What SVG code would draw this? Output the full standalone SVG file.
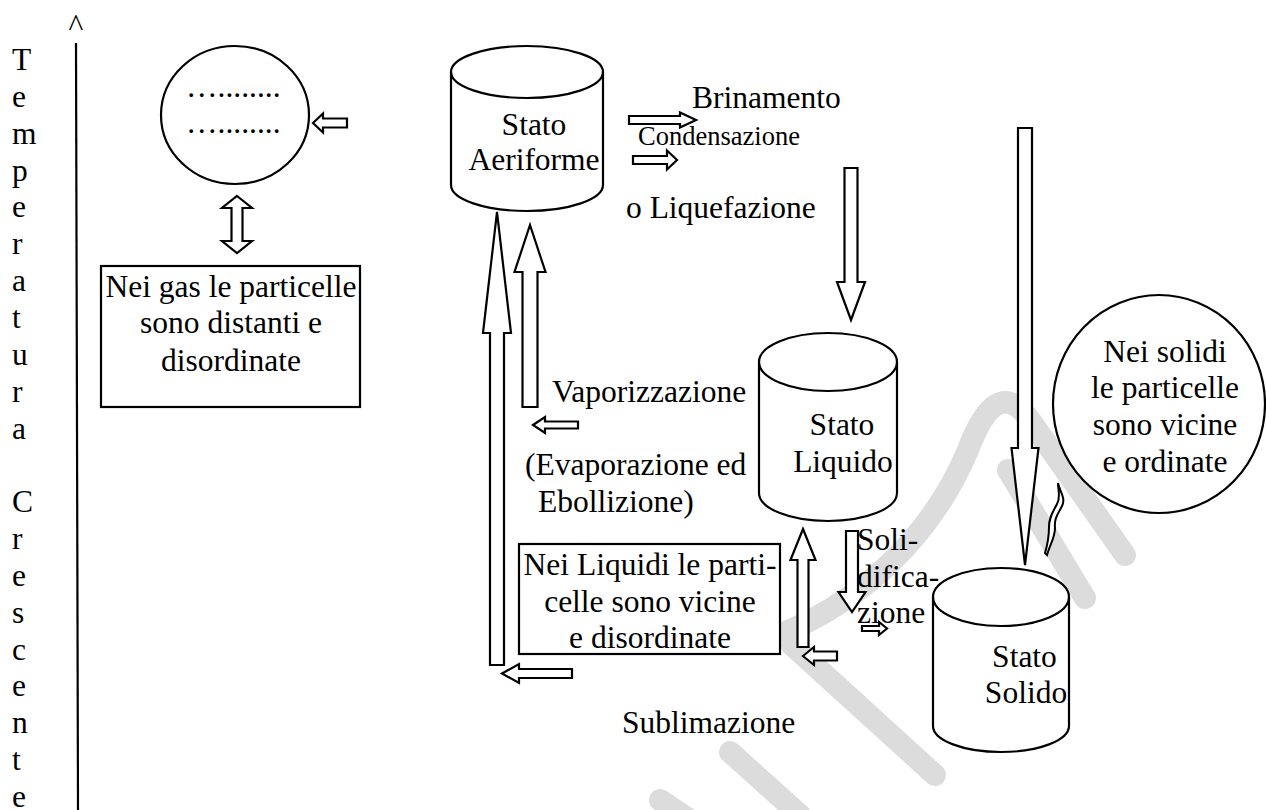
<svg xmlns="http://www.w3.org/2000/svg" width="1266" height="810" viewBox="0 0 1266 810">
<style>
  text { font-family: "Liberation Serif", "Times New Roman", serif; font-size: 31.5px; fill: #000; }
  .small { font-size: 26.5px; }
  .mid { text-anchor: middle; }
  .shape { fill: #fff; stroke: #000; stroke-width: 2.2; stroke-linejoin: miter; }
  .arrow { fill: #fff; stroke: #000; stroke-width: 2.2; stroke-linejoin: miter; }
  .line { fill: none; stroke: #000; stroke-width: 2.2; }
  .wm { fill: none; stroke: #dcdcdc; stroke-width: 22; stroke-linecap: round; stroke-linejoin: round; }
</style>
<rect width="1266" height="810" fill="#fff"/>

<g id="watermark">
  <path class="wm" d="M786,632 C860,600 930,540 968,450 C985,405 1005,385 1030,420 L1125,555"/>
  <path class="wm" d="M1008,470 L1085,598"/>
  <path class="wm" d="M792,645 L935,775"/>
  <path class="wm" d="M730,752 L800,815"/>
  <path class="wm" d="M660,800 L690,820"/>
</g>

<g id="axis">
  <line class="line" x1="76" y1="43" x2="78" y2="810"/>
  <text class="mid" x="76" y="36">^</text>
  <text x="12" y="70">
    <tspan x="12">T</tspan><tspan x="12" dy="36.85">e</tspan><tspan x="12" dy="36.85">m</tspan><tspan x="12" dy="36.85">p</tspan><tspan x="12" dy="36.85">e</tspan><tspan x="12" dy="36.85">r</tspan><tspan x="12" dy="36.85">a</tspan><tspan x="12" dy="36.85">t</tspan><tspan x="12" dy="36.85">u</tspan><tspan x="12" dy="36.85">r</tspan><tspan x="12" dy="36.85">a</tspan><tspan x="12" dy="73.7">C</tspan><tspan x="12" dy="36.85">r</tspan><tspan x="12" dy="36.85">e</tspan><tspan x="12" dy="36.85">s</tspan><tspan x="12" dy="36.85">c</tspan><tspan x="12" dy="36.85">e</tspan><tspan x="12" dy="36.85">n</tspan><tspan x="12" dy="36.85">t</tspan><tspan x="12" dy="36.85">e</tspan>
  </text>
</g>

<g id="connectors">
  <!-- left-pointing arrows -->
  <polygon class="arrow" points="313,123 323,113.5 323,118.5 347,118.5 347,127.5 323,127.5 323,132.5"/>
  <polygon class="arrow" points="533,425 545,417 545,421.5 578,421.5 578,428.5 545,428.5 545,433"/>
  <polygon class="arrow" points="502,673.5 519,664 519,669 572,669 572,678 519,678 519,683"/>
  <polygon class="arrow" points="803,656 814,647 814,651.5 837,651.5 837,660.5 814,660.5 814,665"/>
  <!-- right-pointing arrows -->
  <polygon class="arrow" points="629,116 680,116 680,112.5 696,120 680,127.5 680,124 629,124"/>
  <polygon class="arrow" points="633,156 667,156 667,150.5 677,160 667,169.5 667,164 633,164"/>
  <polygon class="arrow" points="862,626 879,626 879,622 887,628.5 879,635 879,631 862,631" stroke-width="1.8"/>
  <!-- up arrows -->
  <polygon class="arrow" points="497,212 511,333 504,333 504,665 490,665 490,333 483,333"/>
  <polygon class="arrow" points="530,225 545.5,272 537.5,272 537.5,407 522.5,407 522.5,272 514.5,272"/>
  <polygon class="arrow" points="803,529 815.5,560 808.5,560 808.5,647 797.5,647 797.5,560 790.5,560"/>
  <!-- down arrows -->
  <polygon class="arrow" points="844.5,168 857.5,168 857.5,282 865,282 851,320 837,282 844.5,282"/>
  <polygon class="arrow" points="846,531 858,531 858,592 865.5,592 852,612 838.5,592 846,592"/>
  <polygon class="arrow" points="1018,128 1032,128 1032,448 1038.5,448 1025,565 1011.5,448 1018,448"/>
  <!-- double arrow -->
  <polygon class="arrow" points="237,196 252,208 242.5,208 242.5,241 252,241 237,253 222,241 231.5,241 231.5,208 222,208"/>
  <!-- squiggle -->
  <path d="M1058,483 C1060,492 1066,498 1062,506 C1058,514 1054,518 1055,528 C1055,538 1050,544 1047,555 L1045,553 C1048,543 1049,535 1049,527 C1049,517 1053,512 1057,504 C1061,497 1058,492 1058,483 Z" fill="#fff" stroke="#000" stroke-width="2"/>
</g>

<g id="gas-circle">
  <ellipse class="shape" cx="235" cy="115" rx="74" ry="69"/>
  <text x="186" y="97">…........</text>
  <text x="186" y="133">…........</text>
</g>

<g id="gas-box">
  <rect class="shape" x="101" y="266" width="259" height="141"/>
  <text class="mid" x="231" y="297">Nei gas le particelle</text>
  <text class="mid" x="231" y="333">sono distanti e</text>
  <text class="mid" x="231" y="371">disordinate</text>
</g>

<g id="stato-aeriforme">
  <path class="shape" d="M451,72 A76,26 0 0 1 603,72 L603,185 A76,26 0 0 1 451,185 Z"/>
  <path class="line" d="M451,72 A76,26 0 0 0 603,72"/>
  <text class="mid" x="534" y="135">Stato</text>
  <text class="mid" x="534" y="170">Aeriforme</text>
</g>

<g id="labels">
  <text x="692" y="108">Brinamento</text>
  <text class="small" x="638" y="145">Condensazione</text>
  <text x="626" y="218">o Liquefazione</text>
  <text x="552" y="402">Vaporizzazione</text>
  <text x="525" y="475">(Evaporazione ed</text>
  <text x="538" y="512">Ebollizione)</text>
  <text x="857" y="550">Soli-</text>
  <text x="857" y="587">difica-</text>
  <text x="857" y="623">zione</text>
  <text x="622" y="733">Sublimazione</text>
</g>

<g id="liquid-box">
  <rect class="shape" x="519" y="544" width="261" height="110"/>
  <text class="mid" x="650" y="575">Nei Liquidi le parti-</text>
  <text class="mid" x="650" y="612">celle sono vicine</text>
  <text class="mid" x="650" y="648">e disordinate</text>
</g>

<g id="stato-liquido">
  <path class="shape" d="M759,362 A69,29 0 0 1 897,362 L897,493 A69,28 0 0 1 759,493 Z"/>
  <path class="line" d="M759,362 A69,29 0 0 0 897,362"/>
  <text class="mid" x="842" y="435">Stato</text>
  <text class="mid" x="843" y="472">Liquido</text>
</g>

<g id="solid-circle">
  <ellipse class="shape" cx="1159" cy="404" rx="106" ry="109"/>
  <text class="mid" x="1165" y="362">Nei solidi</text>
  <text class="mid" x="1165" y="398">le particelle</text>
  <text class="mid" x="1165" y="435">sono vicine</text>
  <text class="mid" x="1165" y="472">e ordinate</text>
</g>

<g id="stato-solido">
  <path class="shape" d="M933,597 A68,29 0 0 1 1069,597 L1069,726 A68,26 0 0 1 933,726 Z"/>
  <path class="line" d="M933,597 A68,29 0 0 0 1069,597"/>
  <text class="mid" x="1024.5" y="667">Stato</text>
  <text class="mid" x="1026" y="703">Solido</text>
</g>
</svg>
